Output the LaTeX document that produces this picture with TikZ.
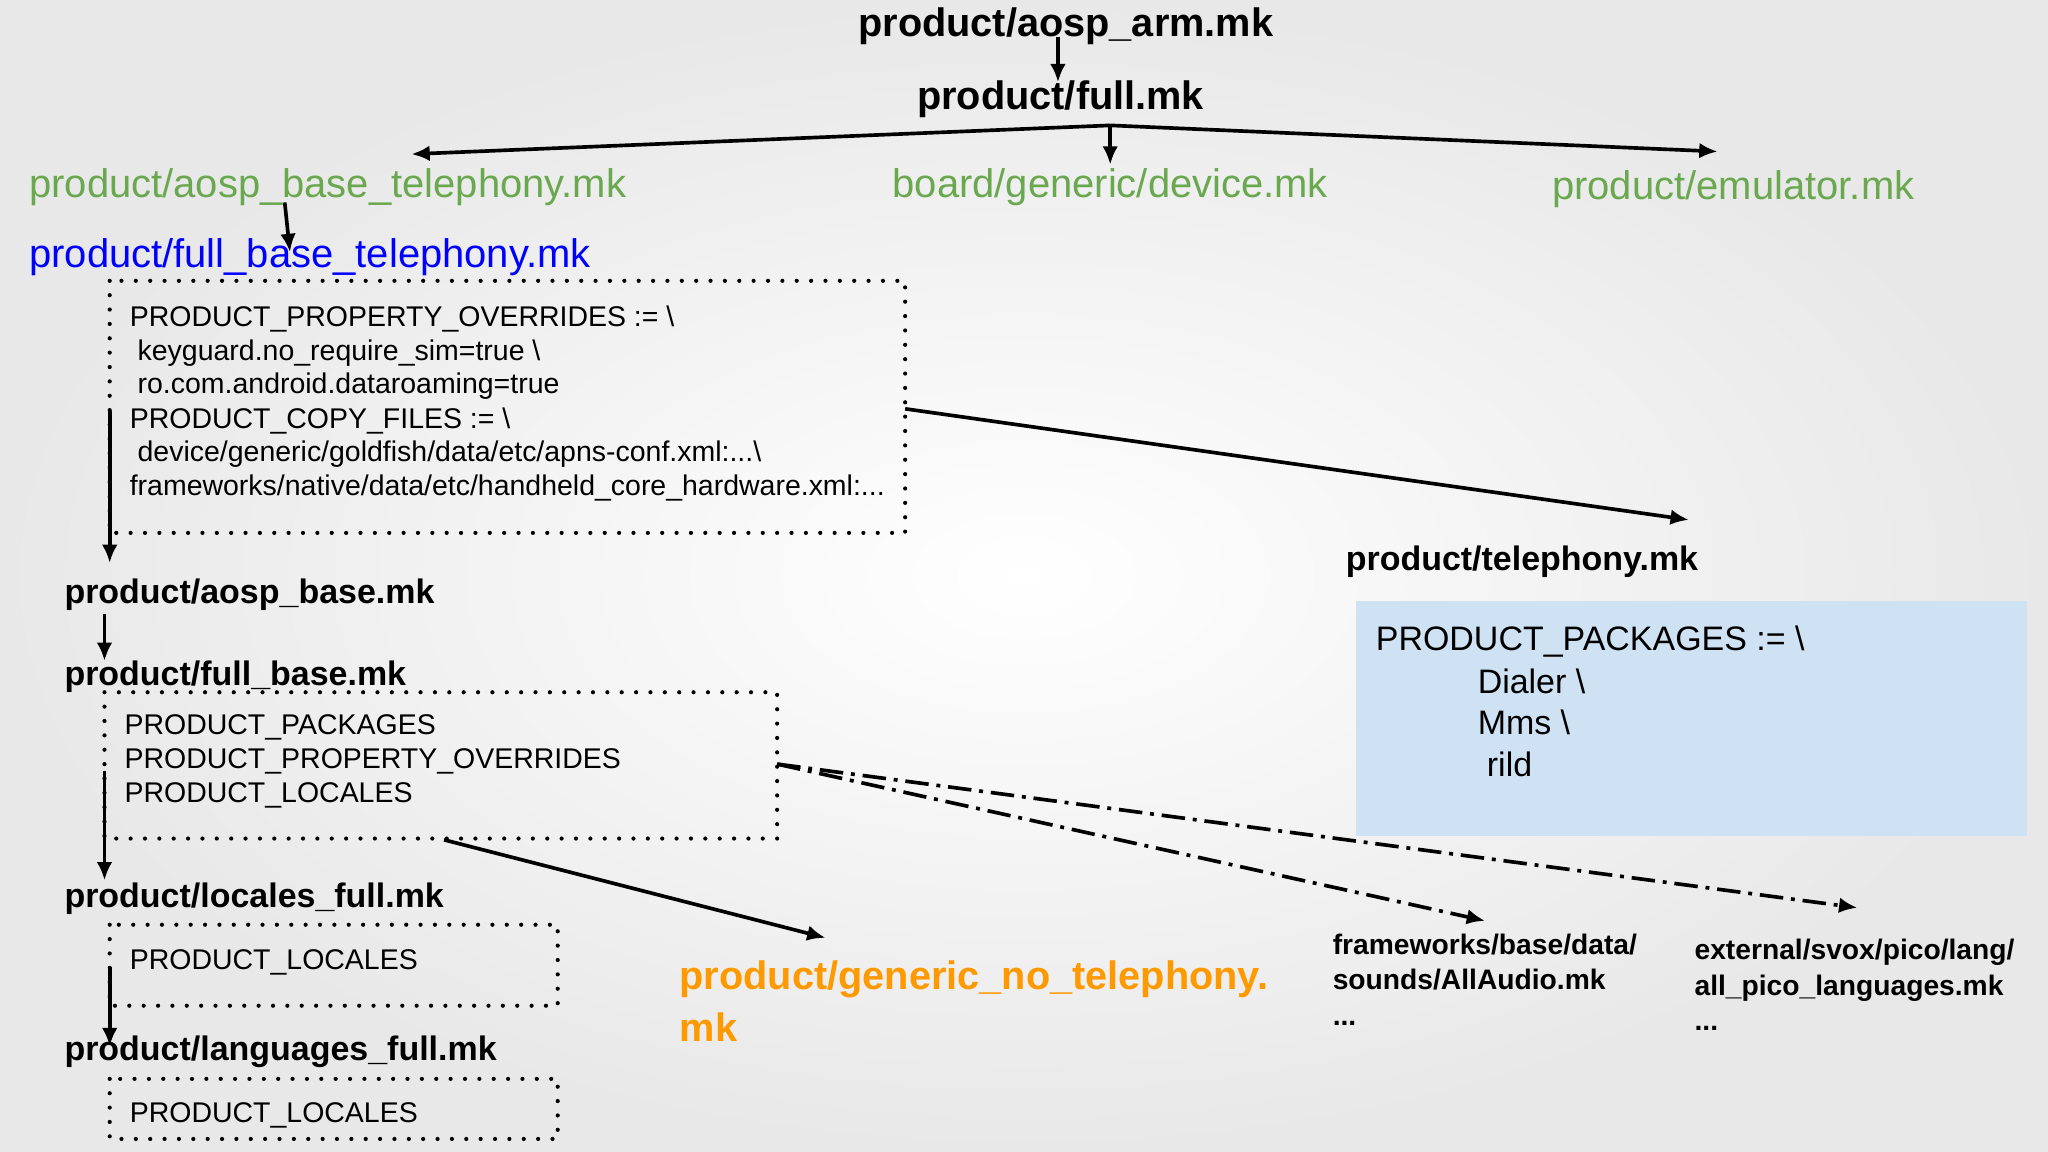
\documentclass[tikz,border=0pt]{standalone}
\usepackage{fontspec}
\setmainfont{Liberation Sans}
\usetikzlibrary{arrows.meta}
\definecolor{grn}{RGB}{106,168,79}
\definecolor{blu}{RGB}{0,0,255}
\definecolor{org}{RGB}{255,153,0}
\definecolor{lb}{RGB}{207,226,243}
\begin{document}
\begin{tikzpicture}[x=0.5pt,y=-0.5pt,
  big/.style={font=\fontsize{13}{15}\selectfont\bfseries,anchor=west,inner sep=0pt},
  ttl/.style={font=\fontsize{15.2}{17}\selectfont\bfseries,anchor=center,inner sep=0pt},
  col/.style={font=\fontsize{15.3}{17}\selectfont,anchor=west,inner sep=0pt},
  sm/.style={font=\fontsize{10.9}{13}\selectfont,anchor=west,inner sep=0pt},
  smb/.style={font=\fontsize{10.8}{13.5}\selectfont\bfseries,anchor=west,inner sep=0pt,align=left},
  arr/.style={line width=1.4pt,-{Latex[length=7pt,width=6pt]}},
  dd/.style={line width=1.4pt,dash pattern=on 9pt off 3pt on 1.5pt off 3pt,-{Latex[length=7pt,width=6pt]}},
  dbox/.style={line width=1.6pt,line cap=round,dash pattern=on 0pt off 5.5pt}]
\useasboundingbox (0,0) rectangle (1568,882);
\shade[inner color=white,outer color=gray!18] (0,0) rectangle (1568,882);
% top
\node[ttl] (arm) at (816,20) {product/aosp\_arm.mk};
\node[ttl] (full) at (812,76) {product/full.mk};
\draw[arr] (810,28) -- (810,63);
\coordinate (hub) at (850,96);
\node[col,text=grn] (abt) at (22,143) {product/aosp\_base\_telephony.mk};
\node[col,text=grn] (dev) at (683,143) {board/generic/device.mk};
\node[col,text=grn] (emu) at (1188,145) {product/emulator.mk};
\coordinate (l1) at (315,118); \coordinate (r1) at (1315,116);
\draw[arr] (hub) -- (l1);
\draw[arr] (hub) -- (r1);
\draw[arr] (hub) -- (850,126);
\node[col,text=blu] (fbt) at (22,197) {product/full\_base\_telephony.mk};
\draw[arr] (218,155) -- (222,193);
% box 1
\draw[dbox] (84,215) rectangle (693,408);
\node[sm] (p1) at (99,244) {PRODUCT\_PROPERTY\_OVERRIDES := \textbackslash};
\node[sm] at (105,270) {keyguard.no\_require\_sim=true \textbackslash};
\node[sm] at (105,296) {ro.com.android.dataroaming=true};
\node[sm] at (99,322) {PRODUCT\_COPY\_FILES := \textbackslash};
\node[sm] at (105,348) {device/generic/goldfish/data/etc/apns-conf.xml:...\textbackslash};
\node[sm] at (99,374) {frameworks/native/data/etc/handheld\_core\_hardware.xml:...};
\draw[arr] (84,315) -- (84,431);
\draw[arr] (693,313) -- (1293,398);
\node[big] (tel) at (1030,430) {product/telephony.mk};
\fill[lb] (1038,460) rectangle (1552,640);
\node[col,font=\fontsize{13}{15}\selectfont] at (1053,491) {PRODUCT\_PACKAGES := \textbackslash};
\node[col,font=\fontsize{13}{15}\selectfont] at (1131,522) {Dialer \textbackslash};
\node[col,font=\fontsize{13}{15}\selectfont] at (1131,553) {Mms \textbackslash};
\node[col,font=\fontsize{13}{15}\selectfont] at (1138,585) {rild};
\node[big] (ab) at (49,455) {product/aosp\_base.mk};
\draw[arr] (80,470) -- (80,506);
\node[big] (fb) at (49,518) {product/full\_base.mk};
\draw[dbox] (80,530) rectangle (595,642);
\node[sm] at (95,557) {PRODUCT\_PACKAGES};
\node[sm] at (95,583) {PRODUCT\_PROPERTY\_OVERRIDES};
\node[sm] at (95,609) {PRODUCT\_LOCALES};
\draw[arr] (80,590) -- (80,674);
\draw[dd] (595,585) -- (1137,705);
\draw[dd] (595,585) -- (1422,695);
\draw[arr] (340,643) -- (632,718);
\node[big,font=\fontsize{15.2}{17}\selectfont\bfseries,text=org] (gnt) at (520,750) {product/generic\_no\_telephony.};
\node[big,font=\fontsize{15.2}{17}\selectfont\bfseries,text=org] at (520,786) {mk};
\node[smb] (aa) at (1020,750) {frameworks/base/data/\\sounds/AllAudio.mk\\...};
\node[smb] (pico) at (1297,754) {external/svox/pico/lang/\\all\_pico\_languages.mk\\...};
\node[big] (lf) at (49,688) {product/locales\_full.mk};
\draw[dbox] (84,708) rectangle (427,770);
\node[sm] at (99,737) {PRODUCT\_LOCALES};
\draw[arr] (84,740) -- (84,801);
\node[big] (lang) at (49,805) {product/languages\_full.mk};
\draw[dbox] (84,826) rectangle (427,872);
\node[sm] at (99,854) {PRODUCT\_LOCALES};
\end{tikzpicture}
\end{document}
